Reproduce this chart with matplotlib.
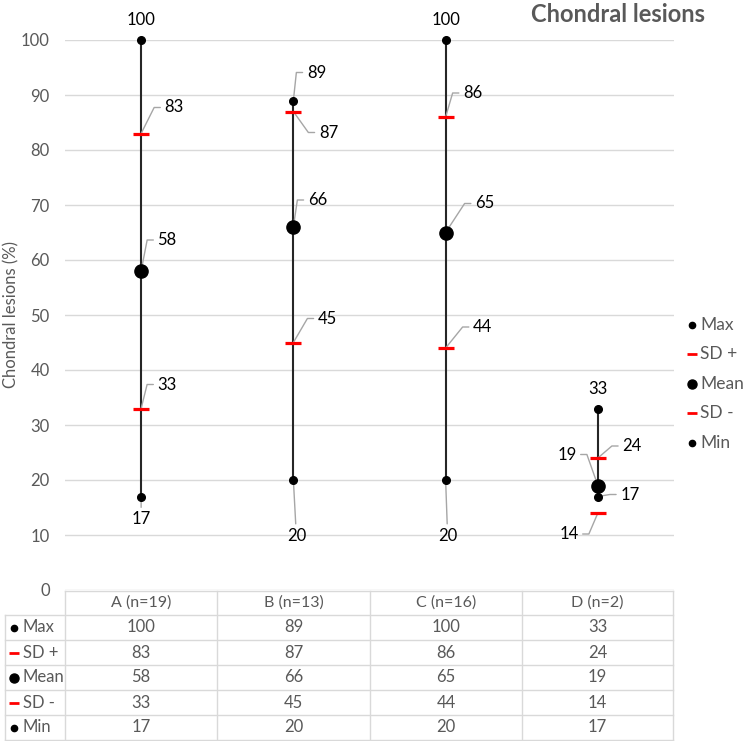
import math
import matplotlib
matplotlib.use("Agg")
import matplotlib.pyplot as plt
from matplotlib.lines import Line2D

plt.rcParams['font.family'] = ['Lato', 'DejaVu Sans']

# data
categories = ["A (n=19)", "B (n=13)", "C (n=16)", "D (n=2)"]
max_vals = [100, 89, 100, 33]
sd_plus = [83, 87, 86, 24]
mean_vals = [58, 66, 65, 19]
sd_minus = [33, 45, 44, 14]
min_vals = [17, 20, 20, 17]

series_names = ["Max", "SD +", "Mean", "SD -", "Min"]
series_vals = [max_vals, sd_plus, mean_vals, sd_minus, min_vals]

# label placement (pixel offsets of the label centre from its point) and leader kind
label_offsets = {
    "Max":  [(0, 20, None), (23, 28, "r"), (0, 20, None), (0, 20, None)],
    "SD +": [(33, 26, "r"), (35, -21, "r"), (27, 24, "r"), (34, 12, "r")],
    "Mean": [(26, 31, "r"), (24, 27, "r"), (39, 29, "r"), (-31, 31, "l")],
    "SD -": [(26, 24, "r"), (34, 24, "r"), (37, 21, "r"), (-29, -21, "l")],
    "Min":  [(0, -23, "s"), (3, -56, "s"), (2, -56, "s"), (32, 2, "r")],
}

W, H = 751, 741
GRAY = "#595959"
LINE = "#d9d9d9"

fig = plt.figure(figsize=(W / 100, H / 100), dpi=100)
ax = fig.add_axes([65 / W, 1 - 590 / H, 609 / W, 550 / H])

x = list(range(len(categories)))

# vertical range lines
for i in x:
    ax.plot([i, i], [min_vals[i], max_vals[i]], color="#262626", lw=1.5, zorder=3,
            clip_on=False)

styles = {
    "Max": dict(marker="o", markersize=5.5, color="black"),
    "SD +": dict(marker="_", markersize=11.5, markeredgewidth=2.3, color="red"),
    "Mean": dict(marker="o", markersize=9.5, color="black"),
    "SD -": dict(marker="_", markersize=11.5, markeredgewidth=2.3, color="red"),
    "Min": dict(marker="o", markersize=5.5, color="black"),
}
key_styles = {
    "Max": dict(marker="o", markersize=4.5, color="black"),
    "SD +": dict(marker="_", markersize=7, markeredgewidth=2, color="red"),
    "Mean": dict(marker="o", markersize=6.5, color="black"),
    "SD -": dict(marker="_", markersize=7, markeredgewidth=2, color="red"),
    "Min": dict(marker="o", markersize=4.5, color="black"),
}

for name, vals in zip(series_names, series_vals):
    ax.plot(x, vals, linestyle="none", zorder=4, clip_on=False, **styles[name])

# data labels with leader lines
for name, vals in zip(series_names, series_vals):
    for i, v in enumerate(vals):
        dx, dy, kind = label_offsets[name][i]
        if kind is None:
            ax.annotate(str(v), (i, v), xytext=(dx, dy), textcoords="offset pixels",
                        ha="center", va="center", fontsize=12, color="black")
            continue
        if kind == "s":
            cs = "arc3"
        else:
            cdx = dx - 20 if kind == "r" else dx + 20
            ang = math.degrees(math.atan2(dy, cdx))
            cs = "angle,angleA=0,angleB=%.1f,rad=0" % ang
        ax.annotate(str(v), (i, v), xytext=(dx, dy), textcoords="offset pixels",
                    ha="center", va="center", fontsize=12, color="black",
                    arrowprops=dict(arrowstyle="-", color="#a6a6a6", lw=1,
                                    connectionstyle=cs, shrinkA=1, shrinkB=0))

ax.set_xlim(-0.5, len(categories) - 0.5)
ax.set_ylim(0, 100)
ax.set_yticks(range(0, 101, 10))
ax.set_xticks([])
ax.grid(axis="y", color=LINE, lw=1)
ax.set_axisbelow(True)
for s in ax.spines.values():
    s.set_visible(False)
ax.tick_params(axis="y", length=0, pad=11, labelsize=12, labelcolor=GRAY)

fig.text(11 / W, 1 - 315 / H, "Chondral lesions (%)", rotation=90, ha="center",
         va="center", fontsize=12, color=GRAY)

fig.text(705 / W, 1 - 15 / H, "Chondral lesions", ha="right", va="center",
         fontsize=17, fontweight="bold", color=GRAY)

# legend
legend_y = [325, 354, 384, 413, 443]
for name, ly in zip(series_names, legend_y):
    fig.add_artist(Line2D([692 / W], [1 - ly / H], linestyle="none", **key_styles[name]))
    fig.text(700 / W, 1 - ly / H, name, ha="left", va="center", fontsize=12.5, color=GRAY)

# data table below the axis
def fx(p):
    return p / W

def fy(p):
    return 1 - p / H

col_edges = [65, 217, 370, 522, 673]
row_edges = [591, 615, 640, 665, 690, 715, 740]
for xe in col_edges:
    fig.add_artist(Line2D([fx(xe)] * 2, [fy(591), fy(740)], color=LINE, lw=1))
fig.add_artist(Line2D([fx(5)] * 2, [fy(615), fy(740)], color=LINE, lw=1))
fig.add_artist(Line2D([fx(65), fx(673)], [fy(591)] * 2, color=LINE, lw=1))
for ye in row_edges[1:]:
    fig.add_artist(Line2D([fx(5), fx(673)], [fy(ye)] * 2, color=LINE, lw=1))

for j, cat in enumerate(categories):
    cx = (col_edges[j] + col_edges[j + 1]) / 2
    fig.text(fx(cx), fy(603), cat, ha="center", va="center", fontsize=11.5, color=GRAY)
    for r, vals in enumerate(series_vals):
        cy = (row_edges[r + 1] + row_edges[r + 2]) / 2
        fig.text(fx(cx), fy(cy), str(vals[j]), ha="center", va="center",
                 fontsize=12, color=GRAY)

for r, name in enumerate(series_names):
    cy = (row_edges[r + 1] + row_edges[r + 2]) / 2
    fig.add_artist(Line2D([fx(14)], [fy(cy)], linestyle="none", **key_styles[name]))
    fig.text(fx(23), fy(cy), name, ha="left", va="center", fontsize=12, color=GRAY)

fig.savefig("out.png", dpi=100)
